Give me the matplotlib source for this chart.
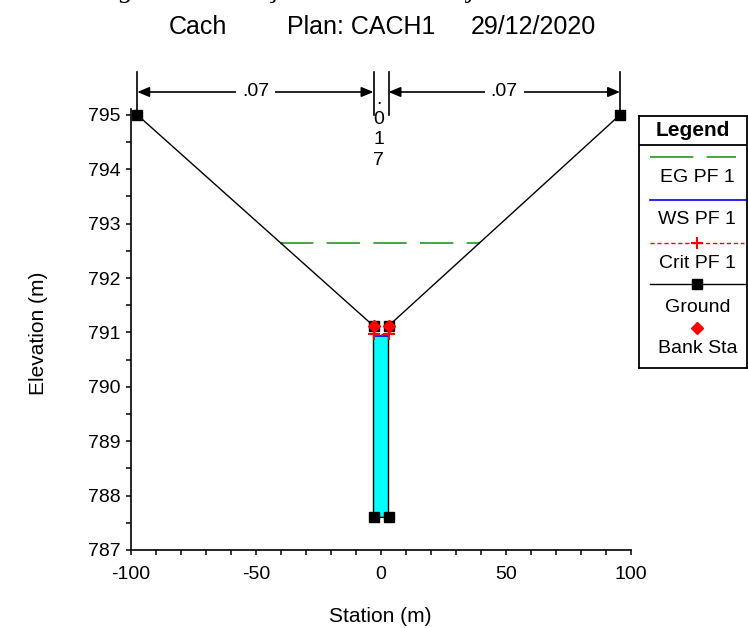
import numpy as np
import matplotlib
matplotlib.use("Agg")
import matplotlib.pyplot as plt
from matplotlib.ticker import MultipleLocator

plt.rcParams['font.family'] = ['Liberation Sans', 'DejaVu Sans']
plt.rcParams['axes.unicode_minus'] = False

# cross section (station m, elevation m)
ground_sta = [-97.5, -3.0, -3.0, 3.0, 3.0, 95.6]
ground_elev = [795.0, 791.12, 787.6, 787.6, 791.12, 795.0]
bank_sta = [-3.0, 3.0]
bank_elev = [791.12, 791.12]

eg_elev = 792.65
ws_elev = 790.94
crit_elev = 790.97

# Manning's n breaks and values
n_breaks = [-97.5, -3.0, 3.0, 95.6]
n_values = [".07", ".017", ".07"]

GREEN = "#1f9a1f"


def crossings(level, sta, elev):
    """Leftmost / rightmost station where the ground crosses a water level."""
    xs = []
    for i in range(len(sta) - 1):
        e0, e1 = elev[i], elev[i + 1]
        if e0 != e1 and (e0 - level) * (e1 - level) <= 0:
            xs.append(sta[i] + (level - e0) / (e1 - e0) * (sta[i + 1] - sta[i]))
    return min(xs), max(xs)


fig = plt.figure(figsize=(7.48, 6.28), dpi=100)
ax = fig.add_axes([131 / 748, 78 / 628, 500 / 748, 440.6 / 628])

# water
ws_l, ws_r = crossings(ws_elev, ground_sta, ground_elev)
ax.fill_between([ws_l, ws_r], min(ground_elev), ws_elev, color="#00ffff", lw=0, zorder=1)
ax.plot([ws_l, ws_r], [ws_elev, ws_elev], color="#0000ff", lw=1.2, zorder=2)

eg_l, eg_r = crossings(eg_elev, ground_sta, ground_elev)
ax.plot([eg_l, eg_r], [eg_elev, eg_elev], color=GREEN, lw=1.2, dashes=(20, 8), zorder=2)

cr_l, cr_r = crossings(crit_elev, ground_sta, ground_elev)
ax.plot([cr_l, cr_r], [crit_elev, crit_elev], color="red", lw=1, dashes=(3, 2),
        marker="+", ms=8, mew=1.5, zorder=4)

# ground + bank stations
ax.plot(ground_sta, ground_elev, color="k", lw=1, marker="s", ms=6.5, zorder=3)
ax.plot(bank_sta, bank_elev, ls="none", marker="D", color="red", ms=6.5, zorder=5)

# Manning's n dimension lines above the section
y_top = max(ground_elev)
y_dim = y_top + 0.42
y_tick = y_top + 0.79
for x in n_breaks:
    ax.plot([x, x], [y_top, y_tick], color="k", lw=1.2, clip_on=False, zorder=3)
for x0, x1, n in zip(n_breaks[:-1], n_breaks[1:], n_values):
    mid = (x0 + x1) / 2
    if x1 - x0 > 20:
        ax.annotate("", xy=(x0, y_dim), xytext=(x1, y_dim),
                    arrowprops=dict(arrowstyle="<|-|>,head_length=0.6,head_width=0.25",
                                    color="k", lw=1.2, shrinkA=0, shrinkB=0,
                                    mutation_scale=12),
                    annotation_clip=False)
        ax.text(mid, y_dim, n, ha="center", va="center", fontsize=14, clip_on=False,
                bbox=dict(boxstyle="square,pad=0.3", fc="white", ec="none"), zorder=4)
    else:
        ax.text(mid - 1, y_dim + 0.02, "\n".join(n), ha="center", va="top", fontsize=14,
                linespacing=1.25, clip_on=False, zorder=4)

ax.set_xlim(-100, 100)
ax.set_ylim(787, 795.1)
ax.xaxis.set_major_locator(MultipleLocator(50))
ax.xaxis.set_minor_locator(MultipleLocator(10))
ax.yaxis.set_major_locator(MultipleLocator(1))
ax.yaxis.set_minor_locator(MultipleLocator(0.5))
ax.tick_params(which="both", direction="out", length=3.6, width=1.1, labelsize=14)
ax.tick_params(axis="x", pad=8)
ax.tick_params(axis="y", pad=4)
for side in ("top", "right"):
    ax.spines[side].set_visible(False)
for side in ("left", "bottom"):
    ax.spines[side].set_linewidth(1.2)

fig.text(38 / 748, 1 - 333 / 628, "Elevation (m)", rotation=90, ha="center", va="center", fontsize=15)
fig.text(380 / 748, 1 - 616 / 628, "Station (m)", ha="center", va="center", fontsize=15)

# title and cropped caption line
fig.text(198 / 748, 1 - 27 / 628, "Cach", ha="center", va="center", fontsize=18)
fig.text(361 / 748, 1 - 27 / 628, "Plan: CACH1", ha="center", va="center", fontsize=18)
fig.text(533 / 748, 1 - 27 / 628, "29/12/2020", ha="center", va="center", fontsize=18)
fig.text(392 / 748, 1 + 3 / 628, "Figura 4.3 – Seção de controle a jusante – HEC-RAS",
         ha="center", va="baseline", fontsize=20, family="Liberation Serif", style="italic")

# legend drawn HEC-RAS style (sample above label)
lax = fig.add_axes([639 / 748, (628 - 368) / 628, 108 / 748, 252 / 628])
lax.set_xlim(0, 1)
lax.set_ylim(1, 0)
lax.set_xticks([])
lax.set_yticks([])
for sp in lax.spines.values():
    sp.set_linewidth(1.3)
lax.axhline(0.115, color="k", lw=1.3)
lax.text(0.5, 0.058, "Legend", ha="center", va="center", fontsize=15, fontweight="bold")

xc = 0.54
lax.plot([0.10, 0.90], [0.163, 0.163], color=GREEN, lw=1.2, dashes=(26, 8))
lax.text(xc, 0.246, "EG PF 1", ha="center", va="center", fontsize=14)
lax.plot([0.10, 0.99], [0.333, 0.333], color="#0000ff", lw=1.2)
lax.text(xc, 0.41, "WS PF 1", ha="center", va="center", fontsize=14)
lax.plot([0.10, 0.97], [0.504, 0.504], color="red", lw=1, dashes=(3, 2))
lax.plot([xc], [0.504], marker="+", color="red", ms=8, mew=1.5)
lax.text(xc, 0.585, "Crit PF 1", ha="center", va="center", fontsize=14)
lax.plot([0.10, 0.99], [0.667, 0.667], color="k", lw=1)
lax.plot([xc], [0.667], marker="s", color="k", ms=6.5)
lax.text(xc, 0.758, "Ground", ha="center", va="center", fontsize=14)
lax.plot([xc], [0.841], marker="D", color="red", ms=6.5)
lax.text(xc, 0.921, "Bank Sta", ha="center", va="center", fontsize=14)

fig.savefig("out.png", dpi=100)
